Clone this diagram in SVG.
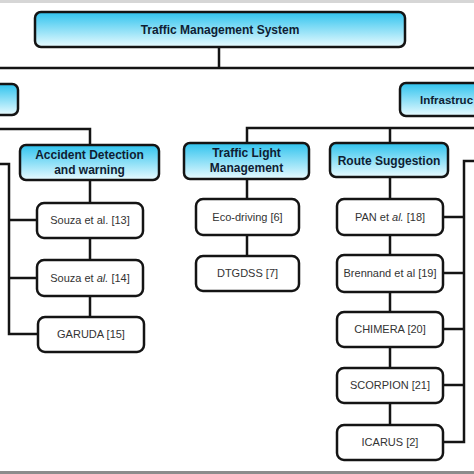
<svg xmlns="http://www.w3.org/2000/svg" width="474" height="474" viewBox="0 0 474 474">
<defs>
<linearGradient id="blue" x1="0" y1="0" x2="0" y2="1">
<stop offset="0" stop-color="#2fc3ee"/>
<stop offset="1" stop-color="#e9fbff"/>
</linearGradient>
<style>
.cat{fill:url(#blue);stroke:#141414;stroke-width:2.5}
.leaf{fill:#ffffff;stroke:#141414;stroke-width:2.5}
.bt{font-family:"Liberation Sans",Arial,sans-serif;font-size:12px;font-weight:bold;fill:#0f1d33;text-anchor:middle}
.lt{font-family:"Liberation Sans",Arial,sans-serif;font-size:11px;fill:#333333;text-anchor:middle}
.conn{fill:none;stroke:#141414;stroke-width:2.5}
</style>
</defs>
<rect x="0" y="0" width="474" height="474" fill="#ffffff"/>
<rect x="0" y="0" width="474" height="3" fill="#d6d6d6"/>
<rect x="0" y="471" width="474" height="3" fill="#8c8c8c"/>
<g id="connectors">
<path class="conn" d="M219 47V68M0 68H474"/>
<path class="conn" d="M0 129H90V145"/>
<path class="conn" d="M0 164H9V334H38M9 220H37M9 278H37"/>
<path class="conn" d="M90 180V203M90 238V260M90 296V317"/>
<path class="conn" d="M247 143V128H474M390 128V143"/>
<path class="conn" d="M247 179V199M247 235V256"/>
<path class="conn" d="M390 177V199M390 235V255M390 292V312M390 347V368M390 403V425"/>
<path class="conn" d="M474 161H464V442H443M443 217H464M443 273H464M443 329H464M443 385H464"/>
</g>
<g id="n-tms"><rect class="cat" x="35" y="12" width="370" height="35" rx="6"/><text class="bt" x="220" y="33.5">Traffic Management System</text></g>
<g id="n-left"><rect class="cat" x="-20" y="84" width="38" height="31" rx="6"/></g>
<g id="n-infra"><rect class="cat" x="400" y="83" width="100" height="33" rx="6"/><text class="bt" x="420" y="103.5" style="text-anchor:start;font-size:11.5px">Infrastruc</text></g>
<g id="n-accident"><rect class="cat" x="20" y="145" width="139" height="35" rx="6"/><text class="bt" x="89.5" y="159">Accident Detection</text><text class="bt" x="89.5" y="174">and warning</text></g>
<g id="n-traffic"><rect class="cat" x="184" y="143" width="125" height="36" rx="6"/><text class="bt" x="246.5" y="157">Traffic Light</text><text class="bt" x="246.5" y="172">Management</text></g>
<g id="n-route"><rect class="cat" x="330" y="143" width="118" height="34" rx="6"/><text class="bt" x="389" y="164.5">Route Suggestion</text></g>
<g id="n-souza13"><rect class="leaf" x="37" y="203" width="106" height="35" rx="7"/><text class="lt" x="90" y="224">Souza et al. [13]</text></g>
<g id="n-souza14"><rect class="leaf" x="37" y="260" width="106" height="36" rx="7"/><text class="lt" x="90" y="282">Souza et <tspan font-style="italic">al.</tspan> [14]</text></g>
<g id="n-garuda"><rect class="leaf" x="38" y="317" width="106" height="35" rx="7"/><text class="lt" x="91" y="338">GARUDA [15]</text></g>
<g id="n-eco"><rect class="leaf" x="196" y="199" width="103" height="36" rx="7"/><text class="lt" x="247.5" y="221">Eco-driving [6]</text></g>
<g id="n-dtgdss"><rect class="leaf" x="196" y="256" width="103" height="35" rx="7"/><text class="lt" x="247.5" y="277">DTGDSS [7]</text></g>
<g id="n-pan"><rect class="leaf" x="337" y="199" width="106" height="36" rx="7"/><text class="lt" x="390" y="221">PAN et <tspan font-style="italic">al.</tspan> [18]</text></g>
<g id="n-brennand"><rect class="leaf" x="337" y="255" width="106" height="37" rx="7"/><text class="lt" x="390" y="277">Brennand et al [19]</text></g>
<g id="n-chimera"><rect class="leaf" x="337" y="312" width="106" height="35" rx="7"/><text class="lt" x="390" y="333">CHIMERA [20]</text></g>
<g id="n-scorpion"><rect class="leaf" x="337" y="368" width="106" height="35" rx="7"/><text class="lt" x="390" y="389">SCORPION [21]</text></g>
<g id="n-icarus"><rect class="leaf" x="337" y="425" width="106" height="35" rx="7"/><text class="lt" x="390" y="446">ICARUS [2]</text></g>
</svg>
